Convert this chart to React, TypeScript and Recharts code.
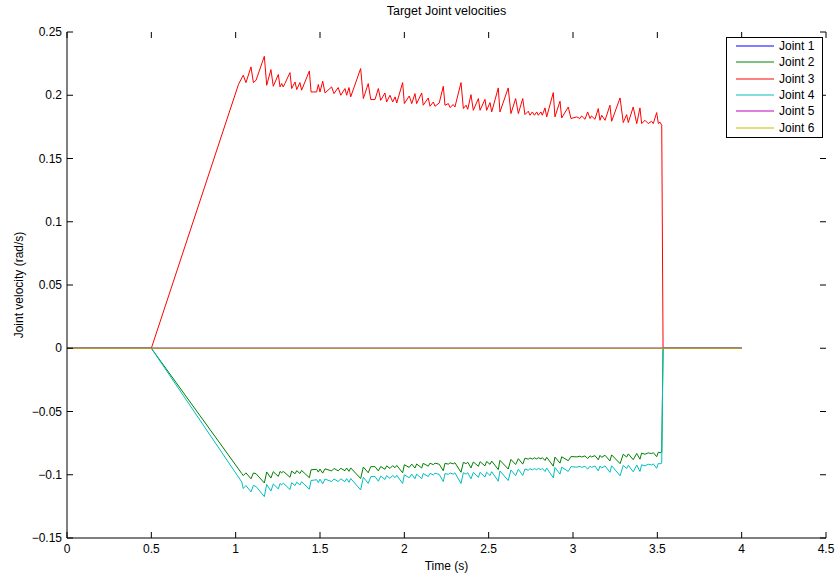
import { LineChart, Line, XAxis, YAxis, Legend } from "recharts"

// time (s) — all joints still before 0.5 s and after the stop
const tLead = [0, 0.5]
const tTail = [3.534, 4.0]

// end of the acceleration ramp [time, value] for joints 3, 2, 4
const j3Ramp = [1.017, 0.2087]
const j2Ramp = [1.036, -0.099]
const j4Ramp = [1.036, -0.1057]

// sample times of the jagged cruise section
const tJag = [
  1.045, 1.061, 1.091, 1.105, 1.121, 1.170, 1.184, 1.209, 1.223, 1.253,
  1.263, 1.273, 1.282, 1.292, 1.322, 1.332, 1.352, 1.362, 1.381, 1.391,
  1.437, 1.447, 1.480, 1.490, 1.500, 1.516, 1.530, 1.569, 1.583, 1.608,
  1.623, 1.648, 1.658, 1.672, 1.682, 1.741, 1.757, 1.786, 1.801, 1.826,
  1.846, 1.860, 1.885, 1.895, 1.915, 1.931, 1.945, 1.955, 1.990, 2.000,
  2.029, 2.044, 2.063, 2.073, 2.103, 2.112, 2.142, 2.152, 2.172, 2.182,
  2.207, 2.231, 2.241, 2.261, 2.271, 2.290, 2.300, 2.336, 2.350, 2.366,
  2.376, 2.395, 2.409, 2.439, 2.449, 2.478, 2.488, 2.508, 2.518, 2.557,
  2.567, 2.616, 2.632, 2.660, 2.676, 2.702, 2.715, 2.735, 2.745, 2.759,
  2.771, 2.785, 2.794, 2.810, 2.818, 2.834, 2.844, 2.883, 2.893, 2.923,
  2.933, 2.972, 2.988, 3.022, 3.041, 3.051, 3.071, 3.087, 3.101, 3.110,
  3.130, 3.150, 3.160, 3.170, 3.190, 3.219, 3.229, 3.279, 3.298, 3.318,
  3.328, 3.357, 3.378, 3.397, 3.407, 3.427, 3.446, 3.466, 3.476, 3.496,
  3.506, 3.516, 3.526,
]

const joint3Jag = [
  0.2158, 0.2100, 0.2224, 0.2100, 0.2119, 0.2308, 0.2079, 0.2203, 0.2071, 0.2164,
  0.2066, 0.2093, 0.2066, 0.2093, 0.2179, 0.2053, 0.2105, 0.2045, 0.2100, 0.2040,
  0.2192, 0.2026, 0.2026, 0.2085, 0.2026, 0.2111, 0.2018, 0.2066, 0.2013, 0.2061,
  0.2000, 0.2053, 0.2000, 0.2061, 0.1987, 0.2211, 0.1974, 0.2092, 0.1966, 0.1966,
  0.2053, 0.1960, 0.2018, 0.1947, 0.2000, 0.1947, 0.1987, 0.1939, 0.2100, 0.1934,
  0.1994, 0.1934, 0.2013, 0.1934, 0.2018, 0.1921, 0.1979, 0.1913, 0.1947, 0.1913,
  0.1939, 0.2071, 0.1921, 0.1934, 0.1903, 0.1927, 0.1907, 0.2100, 0.1895, 0.1921,
  0.1889, 0.2005, 0.1881, 0.1974, 0.1881, 0.1968, 0.1881, 0.1942, 0.1868, 0.2058,
  0.1868, 0.2058, 0.1855, 0.1974, 0.1855, 0.1974, 0.1847, 0.1874, 0.1842, 0.1868,
  0.1842, 0.1868, 0.1842, 0.1868, 0.1842, 0.1900, 0.1829, 0.2021, 0.1829, 0.1953,
  0.1821, 0.1907, 0.1816, 0.1829, 0.1816, 0.1836, 0.1810, 0.1868, 0.1816, 0.1836,
  0.1810, 0.1895, 0.1802, 0.1842, 0.1802, 0.1921, 0.1794, 0.1979, 0.1784, 0.1847,
  0.1784, 0.1907, 0.1776, 0.1900, 0.1776, 0.1802, 0.1776, 0.1794, 0.1776, 0.1863,
  0.1776, 0.1787, 0.1763,
]

const joint2Jag = [
  -0.1007, -0.0985, -0.1032, -0.0986, -0.0992, -0.1065, -0.0978, -0.1026, -0.0976, -0.1013,
  -0.0974, -0.0984, -0.0974, -0.0984, -0.1020, -0.0971, -0.0992, -0.0968, -0.0990, -0.0966,
  -0.1023, -0.0961, -0.0957, -0.0979, -0.0955, -0.0987, -0.0953, -0.0970, -0.0950, -0.0969,
  -0.0949, -0.0968, -0.0947, -0.0973, -0.0946, -0.1030, -0.0939, -0.0984, -0.0936, -0.0936,
  -0.0970, -0.0935, -0.0957, -0.0930, -0.0950, -0.0928, -0.0944, -0.0926, -0.0985, -0.0921,
  -0.0942, -0.0916, -0.0947, -0.0915, -0.0947, -0.0910, -0.0932, -0.0909, -0.0920, -0.0908,
  -0.0917, -0.0968, -0.0910, -0.0916, -0.0906, -0.0914, -0.0905, -0.0980, -0.0902, -0.0912,
  -0.0901, -0.0946, -0.0899, -0.0933, -0.0897, -0.0930, -0.0895, -0.0918, -0.0892, -0.0959,
  -0.0886, -0.0955, -0.0879, -0.0919, -0.0873, -0.0916, -0.0869, -0.0877, -0.0867, -0.0876,
  -0.0866, -0.0875, -0.0865, -0.0874, -0.0864, -0.0887, -0.0862, -0.0932, -0.0860, -0.0908,
  -0.0858, -0.0889, -0.0856, -0.0859, -0.0853, -0.0860, -0.0851, -0.0872, -0.0850, -0.0859,
  -0.0849, -0.0882, -0.0847, -0.0862, -0.0846, -0.0891, -0.0843, -0.0912, -0.0838, -0.0860,
  -0.0835, -0.0881, -0.0832, -0.0877, -0.0829, -0.0838, -0.0827, -0.0833, -0.0825, -0.0857,
  -0.0822, -0.0826, -0.0822,
]

const joint4Jag = [
  -0.1109, -0.1085, -0.1136, -0.1084, -0.1093, -0.1173, -0.1076, -0.1129, -0.1073, -0.1112,
  -0.1069, -0.1079, -0.1068, -0.1078, -0.1117, -0.1063, -0.1085, -0.1059, -0.1081, -0.1055,
  -0.1114, -0.1046, -0.1039, -0.1062, -0.1035, -0.1072, -0.1034, -0.1054, -0.1033, -0.1054,
  -0.1032, -0.1055, -0.1031, -0.1060, -0.1030, -0.1120, -0.1020, -0.1068, -0.1015, -0.1014,
  -0.1051, -0.1011, -0.1037, -0.1007, -0.1029, -0.1005, -0.1023, -0.1004, -0.1069, -0.1000,
  -0.1024, -0.0996, -0.1031, -0.0995, -0.1031, -0.0990, -0.1014, -0.0989, -0.1001, -0.0988,
  -0.0998, -0.1054, -0.0991, -0.0997, -0.0986, -0.0995, -0.0985, -0.1069, -0.0984, -0.0995,
  -0.0983, -0.1032, -0.0982, -0.1020, -0.0981, -0.1018, -0.0980, -0.1006, -0.0976, -0.1051,
  -0.0970, -0.1046, -0.0962, -0.1007, -0.0956, -0.1006, -0.0954, -0.0964, -0.0952, -0.0962,
  -0.0951, -0.0961, -0.0950, -0.0960, -0.0949, -0.0974, -0.0947, -0.1024, -0.0943, -0.0995,
  -0.0940, -0.0974, -0.0936, -0.0940, -0.0934, -0.0942, -0.0933, -0.0956, -0.0932, -0.0942,
  -0.0931, -0.0969, -0.0931, -0.0947, -0.0930, -0.0981, -0.0929, -0.1008, -0.0926, -0.0951,
  -0.0925, -0.0977, -0.0923, -0.0974, -0.0921, -0.0930, -0.0917, -0.0923, -0.0914, -0.0949,
  -0.0910, -0.0914, -0.0909,
]

const xTicks = [0, 0.5, 1, 1.5, 2, 2.5, 3, 3.5, 4, 4.5]
const yTicks = [-0.15, -0.1, -0.05, 0, 0.05, 0.1, 0.15, 0.2, 0.25]

const jointNames = ["Joint 1", "Joint 2", "Joint 3", "Joint 4", "Joint 5", "Joint 6"]
const jointColors = ["#0000ff", "#008000", "#ff0000", "#00bfbf", "#bf00bf", "#bfbf00"]

// plot box in pixels
const LEFT = 67
const RIGHT = 826
const TOP = 32
const BOTTOM = 538
const FONT = "'Liberation Sans', Arial, Helvetica, sans-serif"

function still() {
  return [{ t: tLead[0], v: 0 }, { t: tTail[1], v: 0 }]
}

function moving(ramp: number[], jag: number[]) {
  return [
    ...tLead.map((t) => ({ t, v: 0 })),
    { t: ramp[0], v: ramp[1] },
    ...tJag.map((t, i) => ({ t, v: jag[i] })),
    ...tTail.map((t) => ({ t, v: 0 })),
  ]
}

const series = [
  still(),
  moving(j2Ramp, joint2Jag),
  moving(j3Ramp, joint3Jag),
  moving(j4Ramp, joint4Jag),
  still(),
  still(),
]

const fmt = (v: number) => (v < 0 ? "\u2212" : "") + String(Math.abs(v))

const XTick = (props: any) => {
  const { x, payload } = props
  return (
    <g>
      <line x1={x} x2={x} y1={BOTTOM} y2={BOTTOM - 6} stroke="#000" />
      <line x1={x} x2={x} y1={TOP} y2={TOP + 6} stroke="#000" />
      <text x={x} y={BOTTOM + 15} textAnchor="middle" fontSize={12} fontFamily={FONT} fill="#000">
        {fmt(payload.value)}
      </text>
    </g>
  )
}

const YTick = (props: any) => {
  const { y, payload } = props
  return (
    <g>
      <line x1={LEFT} x2={LEFT + 6} y1={y} y2={y} stroke="#000" />
      <line x1={RIGHT} x2={RIGHT - 6} y1={y} y2={y} stroke="#000" />
      <text x={LEFT - 5} y={y} dy="0.35em" textAnchor="end" fontSize={12} fontFamily={FONT} fill="#000">
        {fmt(payload.value)}
      </text>
    </g>
  )
}

const LegendBox = (props: any) => {
  const items = props.payload || []
  return (
    <div
      style={{
        width: 97,
        height: 101,
        border: "1px solid #000",
        boxSizing: "border-box",
        background: "#fff",
        fontFamily: FONT,
        fontSize: 12,
      }}
    >
      {items.map((it: any) => (
        <div key={it.value} style={{ display: "flex", alignItems: "center", height: 16.3 }}>
          <svg width={52} height={4} style={{ flex: "none" }}>
            <line x1={9} x2={47} y1={2} y2={2} stroke={it.color} strokeWidth={1} />
          </svg>
          <span style={{ lineHeight: "16px" }}>{it.value}</span>
        </div>
      ))}
    </div>
  )
}

export default function App() {
  return (
    <div style={{ position: "absolute", left: 0, top: 0, width: 839, height: 575, background: "#fff" }}>
      <div
        style={{
          position: "absolute",
          left: LEFT,
          width: RIGHT - LEFT,
          top: 4,
          textAlign: "center",
          fontFamily: FONT,
          fontSize: 12.5,
          zIndex: 2,
        }}
      >
        Target Joint velocities
      </div>
      <LineChart width={839} height={575} margin={{ top: TOP, right: 839 - RIGHT, left: 0, bottom: 0 }}>
        <XAxis
          dataKey="t"
          type="number"
          domain={[0, 4.5]}
          ticks={xTicks}
          allowDataOverflow
          height={575 - BOTTOM}
          tickSize={0}
          tick={<XTick />}
          axisLine={{ stroke: "#000" }}
          label={{ value: "Time (s)", position: "insideBottom", offset: 5, fontSize: 12, fill: "#000", fontFamily: FONT }}
        />
        <XAxis xAxisId="top" orientation="top" type="number" domain={[0, 4.5]} height={0} tick={false} tickLine={false} axisLine={{ stroke: "#000" }} />
        <YAxis
          type="number"
          domain={[-0.15, 0.25]}
          ticks={yTicks}
          allowDataOverflow
          width={LEFT}
          tickSize={0}
          tick={<YTick />}
          axisLine={{ stroke: "#000" }}
          label={{
            value: "Joint velocity (rad/s)",
            angle: -90,
            position: "insideLeft",
            offset: 19,
            fontSize: 12,
            fill: "#000",
            fontFamily: FONT,
            style: { textAnchor: "middle" },
          }}
        />
        <YAxis yAxisId="right" orientation="right" type="number" domain={[-0.15, 0.25]} width={0} tick={false} tickLine={false} axisLine={{ stroke: "#000" }} />
        <Legend
          layout="vertical"
          align="center"
          verticalAlign="middle"
          content={<LegendBox />}
          wrapperStyle={{ position: "absolute", left: 726, top: 37, width: 97, height: 101, right: "auto", bottom: "auto" }}
        />
        {series.map((d, i) => (
          <Line
            key={jointNames[i]}
            data={d}
            dataKey="v"
            name={jointNames[i]}
            stroke={jointColors[i]}
            strokeWidth={1}
            dot={false}
            activeDot={false}
            isAnimationActive={false}
            type="linear"
          />
        ))}
      </LineChart>
    </div>
  )
}
